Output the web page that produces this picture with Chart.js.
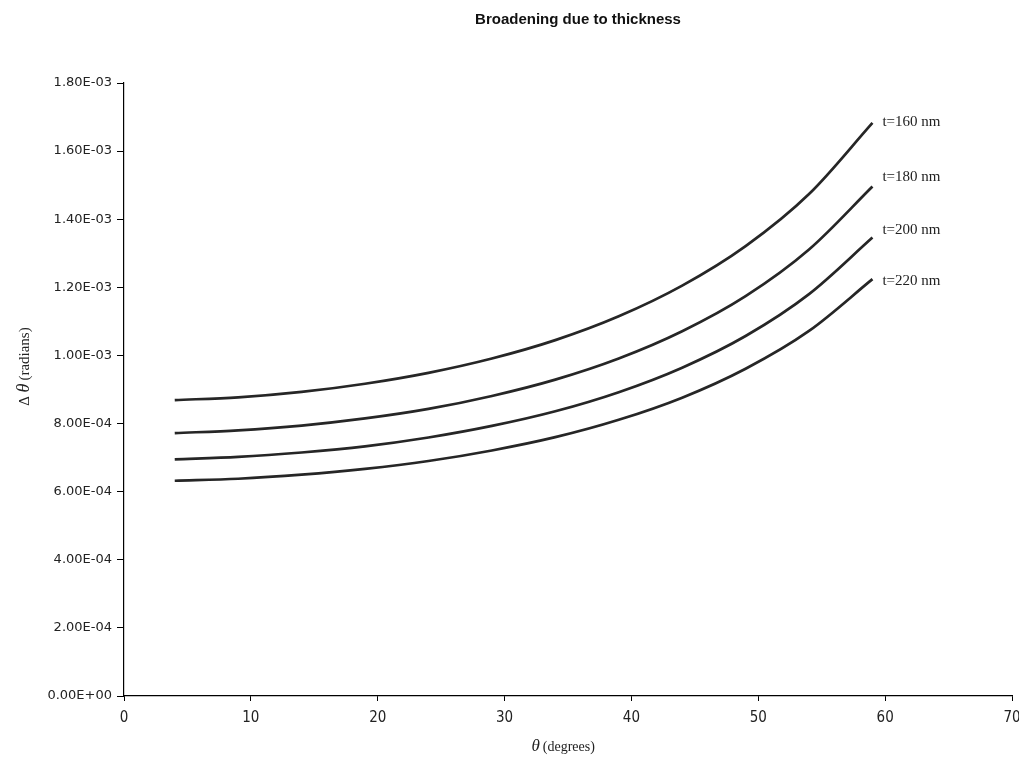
<!DOCTYPE html>
<html>
<head>
<meta charset="utf-8">
<script src="https://cdn.jsdelivr.net/npm/chart.js@4/dist/chart.umd.min.js"></script>
<style>
    html, body { margin: 0; padding: 0; background: #fff; }
    #wrap { width: 1019px; height: 759px; position: relative; }
</style>
</head>
<body>
<div id="wrap"><canvas id="broadeningChart"></canvas></div>
<script>
// angle (degrees) where each curve was sampled
const thetaDeg = [4, 9, 14, 19, 24, 29, 34, 39, 44, 49, 54, 59];

// delta theta (radians)
const t160 = [8.69e-4, 8.77e-4, 8.93e-4, 9.17e-4, 9.49e-4, 9.91e-4, 1.045e-3, 1.115e-3, 1.205e-3, 1.321e-3, 1.474e-3, 1.683e-3];
const t180 = [7.72e-4, 7.80e-4, 7.94e-4, 8.15e-4, 8.43e-4, 8.81e-4, 9.29e-4, 9.91e-4, 1.071e-3, 1.174e-3, 1.311e-3, 1.496e-3];
const t200 = [6.95e-4, 7.02e-4, 7.15e-4, 7.33e-4, 7.59e-4, 7.93e-4, 8.36e-4, 8.92e-4, 9.64e-4, 1.057e-3, 1.180e-3, 1.346e-3];
const t220 = [6.32e-4, 6.38e-4, 6.50e-4, 6.67e-4, 6.90e-4, 7.21e-4, 7.60e-4, 8.11e-4, 8.76e-4, 9.61e-4, 1.072e-3, 1.224e-3];

const seriesLabels = ["t=160 nm", "t=180 nm", "t=200 nm", "t=220 nm"];
const yTicks = [0, 2e-4, 4e-4, 6e-4, 8e-4, 1e-3, 1.2e-3, 1.4e-3, 1.6e-3, 1.8e-3];

const lineColor = "#262626";
const serif = "'Liberation Serif', 'Times New Roman', serif";

function sciLabel(v) {
    if (Math.abs(v) < 1e-12) return "0.00E+00";
    const [m, e] = v.toExponential(2).split("e");
    const n = parseInt(e, 10);
    const sign = n < 0 ? "-" : "+";
    return m + "E" + sign + String(Math.abs(n)).padStart(2, "0");
}

const makeSet = (label, vals) => ({
    label: label,
    data: thetaDeg.map((x, i) => ({ x: x, y: vals[i] })),
    borderColor: lineColor,
    borderWidth: 2.7,
    pointRadius: 0,
    cubicInterpolationMode: "monotone",
    fill: false
});

// draws "θ" in italics between plain text pieces, starting at x
function mixedText(ctx, x, y, pre, greek, rest, size) {
    ctx.font = size + "px " + serif;
    ctx.fillText(pre, x, y);
    x += ctx.measureText(pre).width;
    ctx.font = "italic " + (size + 3) + "px " + serif;
    ctx.fillText(greek, x, y);
    x += ctx.measureText(greek).width + 3;
    ctx.font = size + "px " + serif;
    ctx.fillText(rest, x, y);
}

// title, axis titles and the labels at the end of each curve
const annotate = {
    id: "annotate",
    afterDatasetsDraw(chart) {
        const ctx = chart.ctx;
        ctx.save();
        ctx.fillStyle = "#111";
        ctx.font = "bold 15px 'Liberation Sans', Arial, sans-serif";
        ctx.textAlign = "center";
        ctx.textBaseline = "middle";
        ctx.fillText("Broadening due to thickness", 578, 20);

        ctx.textAlign = "left";
        ctx.textBaseline = "alphabetic";
        ctx.fillStyle = "#222";

        // x axis title
        ctx.font = "14px " + serif;
        const xw = ctx.measureText("(degrees)").width + 15;
        mixedText(ctx, 565 - xw / 2, 751, "", "θ", "(degrees)", 14);

        // y axis title, rotated
        ctx.save();
        ctx.translate(29, 364);
        ctx.rotate(-Math.PI / 2);
        ctx.font = "15px " + serif;
        const yw = ctx.measureText("Δ (radians)").width + 17;
        mixedText(ctx, -yw / 2, 0, "Δ ", "θ", "(radians)", 15);
        ctx.restore();

        ctx.font = "15px " + serif;
        ctx.textBaseline = "middle";
        const offsets = [-1, -9, -8, 2];
        chart.data.datasets.forEach((ds, i) => {
            const pts = chart.getDatasetMeta(i).data;
            const last = pts[pts.length - 1];
            ctx.fillText(ds.label, last.x + 10, last.y + offsets[i]);
        });
        ctx.restore();
    }
};

const ctx = document.getElementById("broadeningChart").getContext("2d");
new Chart(ctx, {
    type: "line",
    data: {
        datasets: [
            makeSet(seriesLabels[0], t160),
            makeSet(seriesLabels[1], t180),
            makeSet(seriesLabels[2], t200),
            makeSet(seriesLabels[3], t220)
        ]
    },
    options: {
        responsive: true,
        maintainAspectRatio: false,
        animation: false,
        layout: { padding: { top: 83, right: 7, left: 0, bottom: 0 } },
        plugins: {
            legend: { display: false },
            tooltip: { enabled: false }
        },
        scales: {
            x: {
                type: "linear",
                min: 0,
                max: 70,
                ticks: {
                    stepSize: 10,
                    color: "#222",
                    padding: 8,
                    font: { family: "'DejaVu Sans Condensed', 'Liberation Sans Narrow', 'Liberation Sans', sans-serif", size: 15 }
                },
                grid: { drawOnChartArea: false, tickLength: 5, color: "#000" },
                border: { color: "#000", width: 1.2 },
                afterFit(scale) {
                    scale.height = 63;
                    scale.paddingLeft = 0;
                    scale.paddingRight = 0;
                }
            },
            y: {
                type: "linear",
                min: 0,
                max: 1.8e-3,
                afterBuildTicks(scale) { scale.ticks = yTicks.map(v => ({ value: v })); },
                ticks: {
                    color: "#222",
                    padding: 5,
                    callback: v => sciLabel(v),
                    font: { family: "'DejaVu Sans', Verdana, sans-serif", size: 13 }
                },
                grid: { drawOnChartArea: false, tickLength: 7, color: "#000" },
                border: { color: "#000", width: 1.2 },
                afterFit(scale) { scale.width = 124; }
            }
        }
    },
    plugins: [annotate]
});
</script>
</body>
</html>
